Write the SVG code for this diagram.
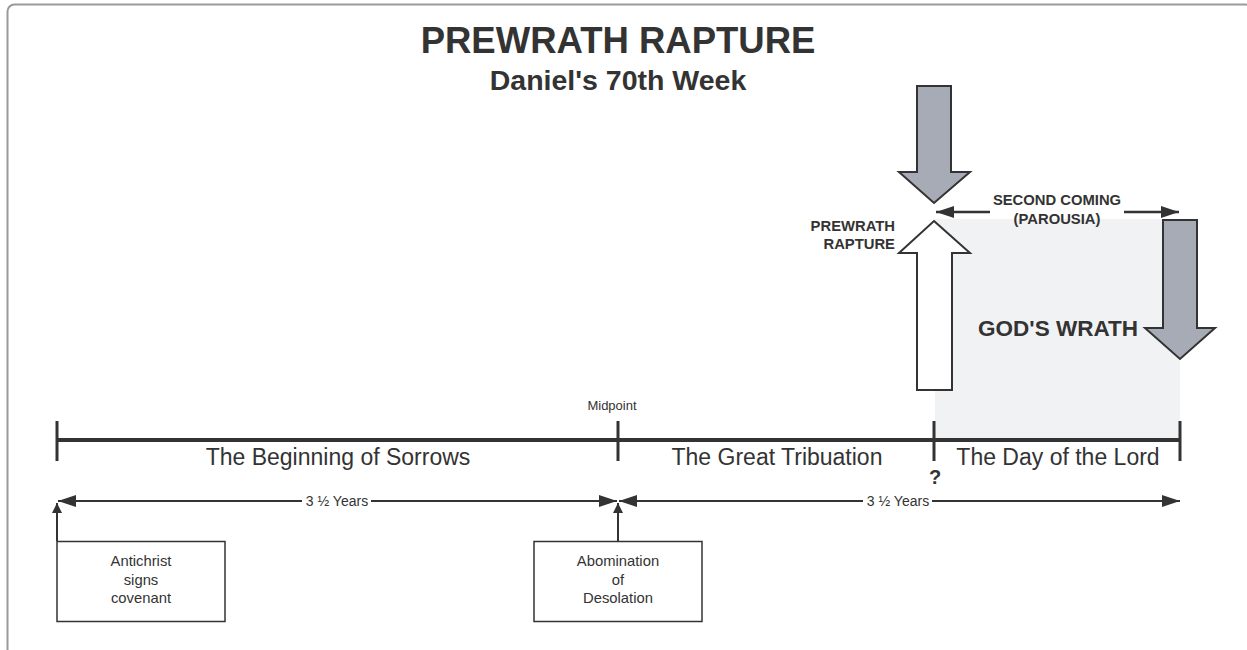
<svg xmlns="http://www.w3.org/2000/svg" width="1247" height="650" viewBox="0 0 1247 650">
<defs>
<style>
text{font-family:"Liberation Sans",Arial,sans-serif;fill:#333;}
.b{font-weight:bold;}
.ln{stroke:#333;fill:none;}
.arrow-gray{fill:#a7abb5;stroke:#333;stroke-width:2;stroke-linejoin:miter;}
.arrow-white{fill:#fff;stroke:#333;stroke-width:2;}
</style>
<marker id="ah" viewBox="0 0 10 10" refX="10" refY="5" markerWidth="10" markerHeight="10" markerUnits="userSpaceOnUse" orient="auto-start-reverse">
<path d="M0,0 L10,5 L0,10 Z" fill="#333"/>
</marker>
<marker id="ah2" viewBox="0 0 18 12" refX="18" refY="6" markerWidth="18" markerHeight="12" markerUnits="userSpaceOnUse" orient="auto-start-reverse">
<path d="M0,0 L18,6 L0,12 L0,6 Z" fill="#333"/>
</marker>
</defs>
<rect x="0" y="0" width="1247" height="650" fill="#fff"/>
<rect x="7.5" y="4.5" width="1245" height="660" rx="7" fill="none" stroke="#9a9a9a" stroke-width="2"/>

<g id="title">
<text x="618" y="53" text-anchor="middle" class="b" font-size="36.5">PREWRATH RAPTURE</text>
<text x="618" y="90" text-anchor="middle" class="b" font-size="28.5">Daniel's 70th Week</text>
</g>

<g id="wrath-zone">
<rect x="935" y="219" width="245" height="221" fill="#f1f2f4"/>
</g>

<g id="parousia-arrow">
<polygon class="arrow-gray" points="917,86 951,86 951,172 970,172 934,203 899,172 917,172"/>
</g>

<g id="rapture-arrow">
<polygon class="arrow-white" points="934,221 970,253 952,253 952,390 917,390 917,253 899,253"/>
<text x="895" y="231" text-anchor="end" class="b" font-size="14.8">PREWRATH</text>
<text x="895" y="249" text-anchor="end" class="b" font-size="14.8">RAPTURE</text>
</g>

<g id="wrath-arrow">
<polygon class="arrow-gray" points="1163,220 1197,220 1197,328 1215,328 1180,359 1145,328 1163,328"/>
<text x="1138" y="336" text-anchor="end" class="b" font-size="22.5">GOD'S WRATH</text>
</g>

<g id="second-coming">
<text x="1057" y="205" text-anchor="middle" class="b" font-size="14.8">SECOND COMING</text>
<text x="1057" y="224" text-anchor="middle" class="b" font-size="14.8">(PAROUSIA)</text>
</g>

<g id="timeline">
<line class="ln" x1="57" y1="440" x2="1180" y2="440" stroke-width="4"/>
<line class="ln" x1="57" y1="421" x2="57" y2="461" stroke-width="3"/>
<line class="ln" x1="618" y1="421" x2="618" y2="461" stroke-width="3"/>
<line class="ln" x1="934" y1="421" x2="934" y2="461" stroke-width="3"/>
<line class="ln" x1="1180" y1="421" x2="1180" y2="461" stroke-width="3"/>
<text x="612" y="410" text-anchor="middle" font-size="13">Midpoint</text>
<text x="338" y="465" text-anchor="middle" font-size="23">The Beginning of Sorrows</text>
<text x="777" y="465" text-anchor="middle" font-size="23">The Great Tribuation</text>
<text x="1058" y="465" text-anchor="middle" font-size="23">The Day of the Lord</text>
<text x="935" y="484" text-anchor="middle" class="b" font-size="20">?</text>
</g>

<g id="node-antichrist">
<rect x="57" y="541.5" width="168" height="80" fill="#fff" stroke="#333" stroke-width="1.5"/>
<text x="141" y="566" text-anchor="middle" font-size="14.8">Antichrist</text>
<text x="141" y="585" text-anchor="middle" font-size="14.8">signs</text>
<text x="141" y="603" text-anchor="middle" font-size="14.8">covenant</text>
</g>

<g id="node-abomination">
<rect x="534" y="541.5" width="168" height="80" fill="#fff" stroke="#333" stroke-width="1.5"/>
<text x="618" y="566" text-anchor="middle" font-size="14.8">Abomination</text>
<text x="618" y="585" text-anchor="middle" font-size="14.8">of</text>
<text x="618" y="603" text-anchor="middle" font-size="14.8">Desolation</text>
</g>

<g id="connectors">
<line class="ln" x1="990" y1="212" x2="936" y2="212" stroke-width="2.5" marker-end="url(#ah2)"/>
<line class="ln" x1="1124" y1="212" x2="1179" y2="212" stroke-width="2.5" marker-end="url(#ah2)"/>
<line class="ln" x1="302" y1="501" x2="58" y2="501" stroke-width="2" marker-end="url(#ah2)"/>
<line class="ln" x1="371" y1="501" x2="617" y2="501" stroke-width="2" marker-end="url(#ah2)"/>
<line class="ln" x1="863" y1="501" x2="619" y2="501" stroke-width="2" marker-end="url(#ah2)"/>
<line class="ln" x1="932" y1="501" x2="1180" y2="501" stroke-width="2" marker-end="url(#ah2)"/>
<text x="337" y="506" text-anchor="middle" font-size="14">3 ½ Years</text>
<text x="898" y="506" text-anchor="middle" font-size="14">3 ½ Years</text>
<line class="ln" x1="57" y1="541" x2="57" y2="503" stroke-width="2" marker-end="url(#ah)"/>
<line class="ln" x1="618" y1="541" x2="618" y2="503" stroke-width="2" marker-end="url(#ah)"/>
</g>
</svg>
